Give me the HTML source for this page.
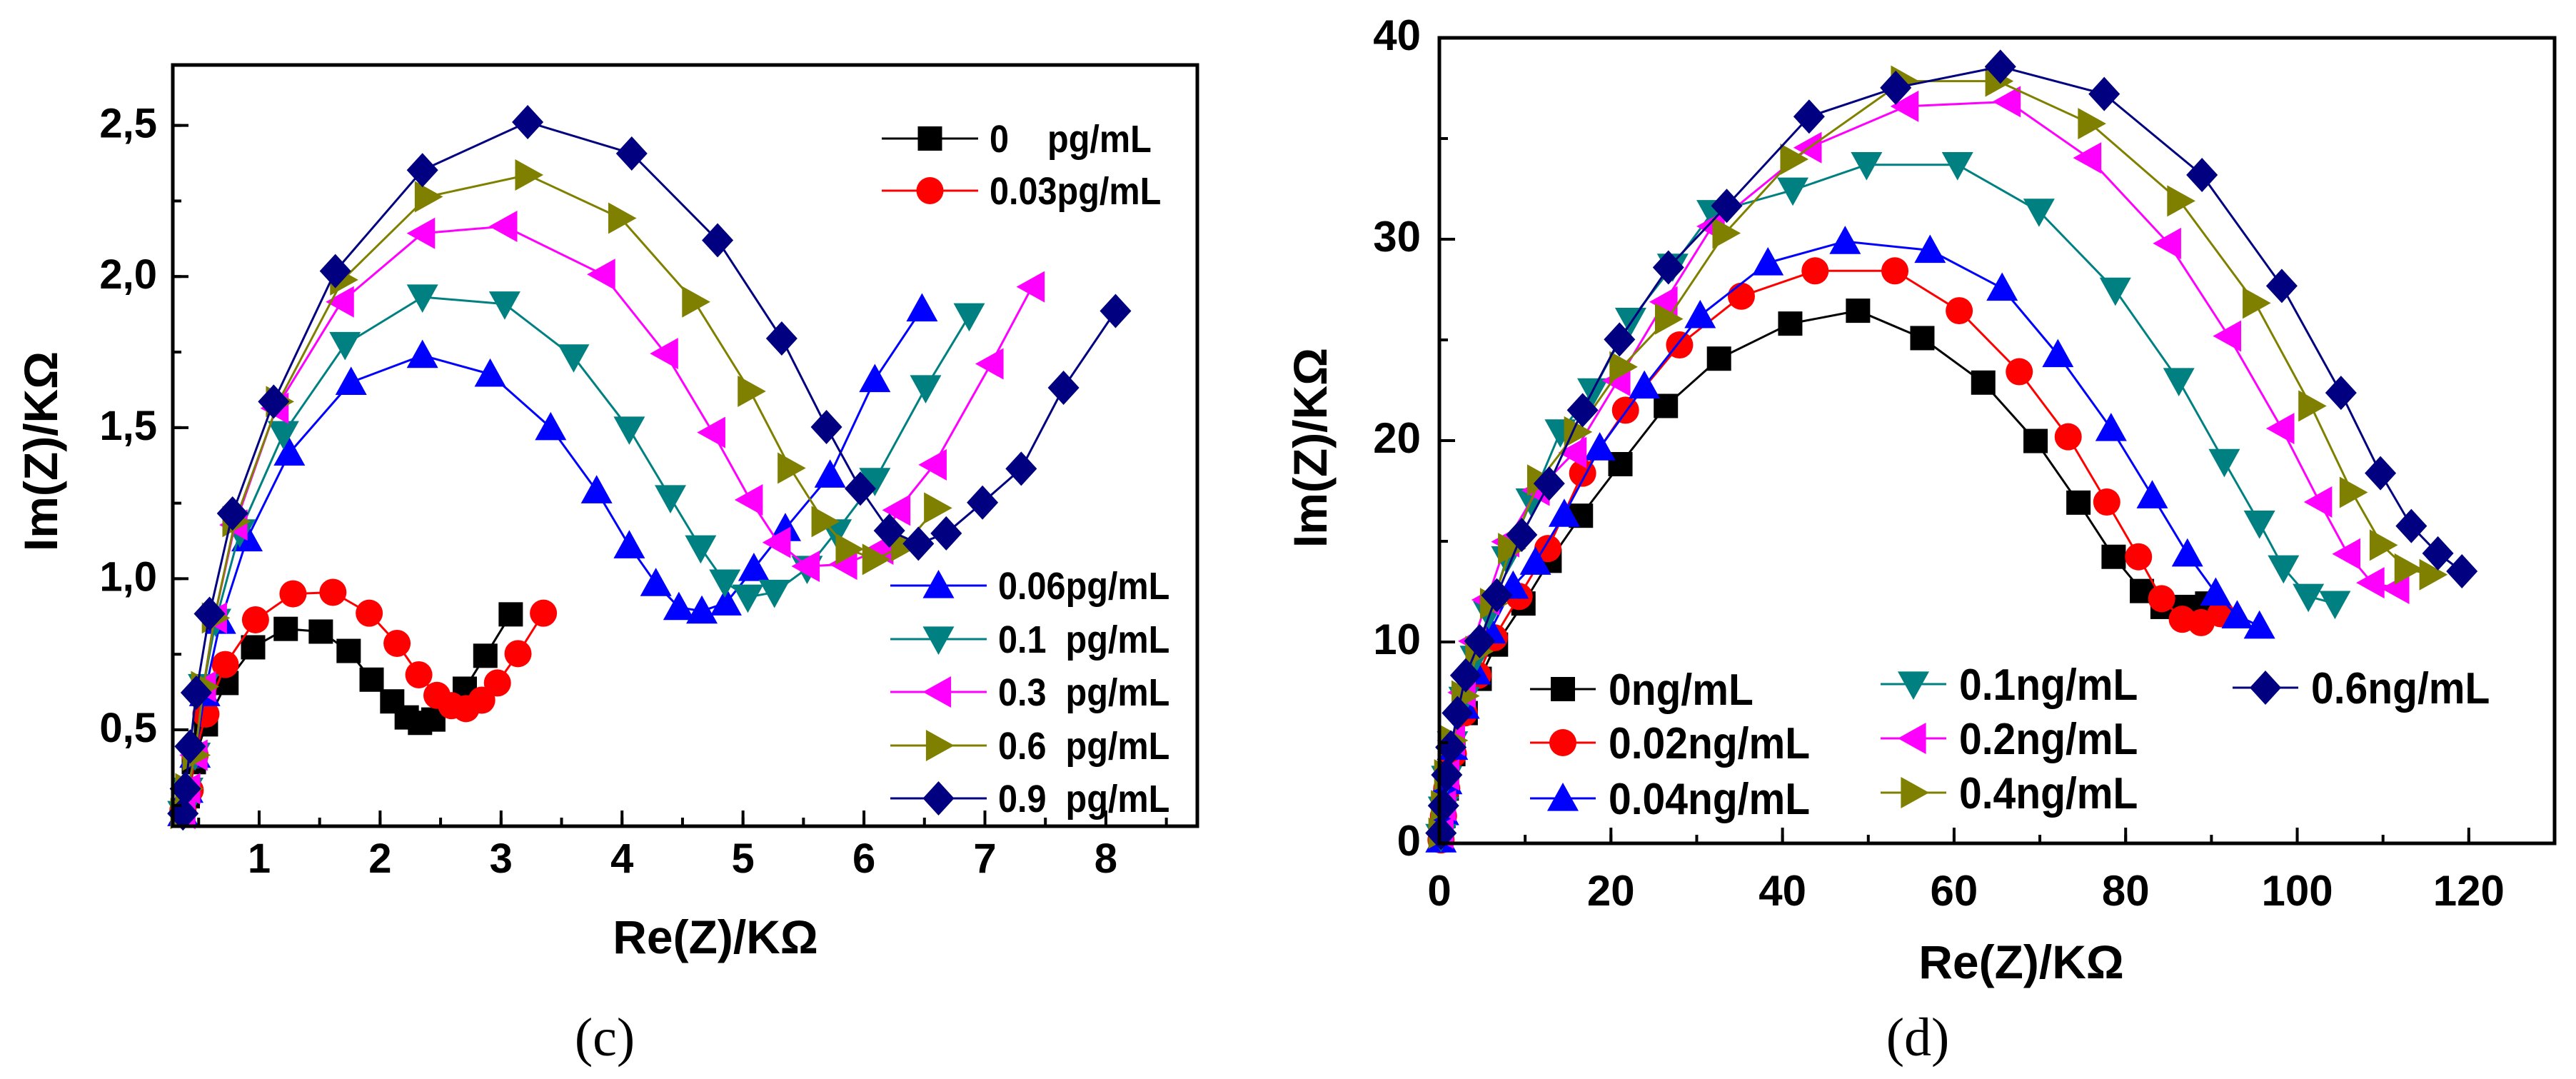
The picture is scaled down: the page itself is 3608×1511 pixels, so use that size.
<!DOCTYPE html>
<html><head><meta charset="utf-8"><style>
html,body{margin:0;padding:0;background:#fff;}
svg text{font-family:"Liberation Sans",Arial,sans-serif;font-weight:bold;white-space:pre;}
</style></head>
<body>
<svg id="fig" width="3608" height="1506" viewBox="0 0 3608 1506" xmlns="http://www.w3.org/2000/svg"></svg>
<script>
// ---------- Panel (c) data ----------
const cNames = ["0    pg/mL","0.03pg/mL","0.06pg/mL","0.1  pg/mL","0.3  pg/mL","0.6  pg/mL","0.9  pg/mL"];
const cX0 = [0.37,0.41,0.46,0.56,0.73,0.95,1.22,1.51,1.74,1.93,2.10,2.22,2.33,2.44,2.70,2.87,3.08];
const cY0 = [0.223,0.28,0.393,0.518,0.655,0.773,0.834,0.825,0.761,0.666,0.594,0.541,0.523,0.534,0.636,0.745,0.882];
const cX1 = [0.37,0.43,0.47,0.56,0.72,0.97,1.28,1.61,1.91,2.14,2.32,2.47,2.59,2.71,2.84,2.97,3.14,3.35];
const cY1 = [0.234,0.30,0.416,0.552,0.716,0.864,0.95,0.955,0.886,0.786,0.682,0.614,0.58,0.57,0.598,0.655,0.752,0.886];
const cX2 = [0.37,0.41,0.47,0.55,0.68,0.90,1.25,1.76,2.35,2.91,3.41,3.79,4.06,4.28,4.47,4.66,4.86,5.09,5.35,5.72,6.09,6.48];
const cY2 = [0.223,0.30,0.416,0.62,0.859,1.132,1.416,1.65,1.739,1.677,1.50,1.291,1.109,0.984,0.905,0.893,0.92,1.034,1.166,1.343,1.659,1.893];
const cX3 = [0.37,0.41,0.47,0.54,0.64,0.84,1.20,1.71,2.35,3.03,3.60,4.06,4.40,4.65,4.85,5.04,5.26,5.53,5.77,6.09,6.51,6.87];
const cY3 = [0.223,0.30,0.416,0.643,0.859,1.155,1.48,1.775,1.932,1.909,1.734,1.495,1.268,1.102,0.989,0.939,0.955,1.034,1.155,1.325,1.632,1.870];
const cX4 = [0.37,0.41,0.47,0.54,0.63,0.80,1.14,1.68,2.35,3.03,3.84,4.36,4.75,5.06,5.29,5.53,5.84,6.14,6.28,6.58,7.05,7.39];
const cY4 = [0.223,0.305,0.416,0.643,0.870,1.178,1.564,1.916,2.143,2.166,2.007,1.745,1.484,1.261,1.120,1.041,1.048,1.098,1.227,1.377,1.711,1.966];
const cX5 = [0.37,0.41,0.47,0.54,0.63,0.80,1.16,1.69,2.39,3.22,3.99,4.60,5.06,5.39,5.67,5.87,6.09,6.33,6.60];
const cY5 = [0.223,0.305,0.416,0.643,0.870,1.189,1.586,1.989,2.264,2.336,2.193,1.916,1.620,1.366,1.189,1.098,1.064,1.109,1.234];
const cX6 = [0.37,0.39,0.43,0.48,0.59,0.78,1.12,1.63,2.35,3.22,4.08,4.79,5.32,5.69,5.97,6.21,6.45,6.68,6.98,7.30,7.65,8.08];
const cY6 = [0.223,0.305,0.445,0.623,0.884,1.216,1.586,2.018,2.352,2.511,2.407,2.120,1.795,1.502,1.298,1.159,1.116,1.150,1.252,1.364,1.632,1.886];
const cXTicks = [1,2,3,4,5,6,7,8];
const cXTickLabels = ["1","2","3","4","5","6","7","8"];
const cYTicks = [0.5,1.0,1.5,2.0,2.5];
const cYTickLabels = ["0,5","1,0","1,5","2,0","2,5"];

// ---------- Panel (d) data ----------
const dNames = ["0ng/mL","0.02ng/mL","0.04ng/mL","0.1ng/mL","0.2ng/mL","0.4ng/mL","0.6ng/mL"];
const dX0 = [0.19,0.48,0.86,1.63,3.07,4.7,6.6,9.8,12.85,16.5,21.1,26.4,32.6,40.9,48.8,56.3,63.4,69.5,74.5,78.6,81.9,84.3,86.9,89.5];
const dY0 = [0.17,1.36,2.72,4.43,6.47,8.17,9.87,11.91,14.03,16.27,18.83,21.72,24.07,25.81,26.45,25.09,22.88,19.98,16.92,14.23,12.53,11.74,11.74,11.91];
const dX1 = [0.19,0.48,0.86,1.63,2.88,4.5,6.4,9.3,12.65,16.7,21.7,28.0,35.2,43.8,53.1,60.6,67.6,73.3,77.8,81.5,84.2,86.6,88.8,91.1];
const dY1 = [0.17,1.36,2.72,4.43,6.47,8.34,10.21,12.26,14.64,18.38,21.51,24.75,27.17,28.43,28.43,26.45,23.42,20.19,16.95,14.23,12.15,11.13,10.96,11.40];
const dX2 = [0.19,0.48,0.86,1.53,2.88,4.2,5.94,8.6,11.2,14.56,18.7,23.9,30.4,38.3,47.3,57.2,65.6,72.1,78.3,83.1,87.2,90.5,93.0,95.6];
const dY2 = [0.17,1.53,3.06,4.77,6.81,8.51,10.55,12.77,13.96,16.34,19.64,22.71,26.21,28.83,29.89,29.45,27.57,24.27,20.6,17.26,14.37,12.43,11.30,10.79];
const dX3 = [0.19,0.48,0.86,1.53,2.88,4.2,5.75,7.86,10.7,14.1,17.9,22.3,27.2,31.8,41.2,49.8,60.4,69.9,78.8,86.2,91.5,95.6,98.4,101.3,104.4];
const dY3 = [0.34,1.70,3.23,4.94,7.15,9.19,11.4,14.13,17.0,20.43,22.47,25.97,28.66,31.32,32.44,33.70,33.70,31.39,27.47,22.98,18.96,15.90,13.68,12.26,11.91];
const dX4 = [0.19,0.48,0.86,1.53,2.78,4.0,5.56,7.86,11.4,15.7,20.8,26.3,31.8,43.1,54.4,66.3,75.7,85.0,92.0,98.2,102.6,105.9,108.7,111.6];
const dY4 = [0.51,1.87,3.40,5.11,7.49,10.04,12.09,14.98,17.53,19.40,22.98,26.89,30.64,34.55,36.60,36.83,34.04,29.79,25.19,20.60,16.95,14.37,12.94,12.66];
const dX5 = [0.19,0.48,0.86,1.53,2.88,4.5,6.2,8.3,11.7,16.0,21.3,26.6,33.3,41.2,54.1,65.1,75.9,86.3,95.1,101.6,106.4,109.9,112.8,115.7];
const dY5 = [0.51,1.87,3.40,5.11,7.32,9.53,11.91,14.64,18.04,20.43,23.66,26.04,30.3,33.97,37.85,37.85,35.74,31.90,26.83,21.72,17.43,14.81,13.62,13.34];
const dX6 = [0.19,0.48,0.86,1.34,2.11,3.07,4.7,6.7,9.6,12.8,16.7,21.0,26.7,33.5,43.1,53.2,65.4,77.5,88.9,98.2,105.1,109.7,113.3,116.4,119.2];
const dY6 = [0.51,1.87,3.40,4.77,6.47,8.34,10.04,12.32,15.32,17.87,21.51,25.02,28.6,31.66,36.09,37.52,38.57,37.21,33.19,27.68,22.37,18.38,15.76,14.40,13.51];
const dXTicks = [0,20,40,60,80,100,120];
const dXTickLabels = ["0","20","40","60","80","100","120"];
const dYTicks = [0,10,20,30,40];
const dYTickLabels = ["0","10","20","30","40"];

const colors = ["#000000","#ff0000","#0000ff","#008080","#ff00ff","#808000","#000080"];
const shapes = ["square","circle","up","down","left","right","diamond"];
const NS = "http://www.w3.org/2000/svg";
const svg = document.getElementById("fig");

function mk(tag, attrs, parent){
  const e = document.createElementNS(NS, tag);
  for (const k in attrs) e.setAttribute(k, attrs[k]);
  (parent||svg).appendChild(e);
  return e;
}
function marker(shape, x, y, color, parent){
  let e;
  if (shape==="square") e = mk("rect",{x:x-17,y:y-17,width:34,height:34,fill:color},parent);
  else if (shape==="circle") e = mk("circle",{cx:x,cy:y,r:19,fill:color},parent);
  else {
    let p;
    const s=22;
    if (shape==="up") p=[[x,y-s],[x+s,y+s*0.8],[x-s,y+s*0.8]];
    else if (shape==="down") p=[[x,y+s],[x+s,y-s*0.8],[x-s,y-s*0.8]];
    else if (shape==="left") p=[[x-s,y],[x+s*0.8,y-s],[x+s*0.8,y+s]];
    else if (shape==="right") p=[[x+s,y],[x-s*0.8,y-s],[x-s*0.8,y+s]];
    else p=[[x,y-24],[x+22,y],[x,y+24],[x-22,y]];
    e = mk("polygon",{points:p.map(q=>q.join(",")).join(" "),fill:color},parent);
  }
  
  
  return e;
}

function panel(cfg){
  const g = mk("g",{});
  
  
  const sx = v => cfg.L + (v-cfg.xmin)/(cfg.xmax-cfg.xmin)*(cfg.R-cfg.L);
  const sy = v => cfg.B - (v-cfg.ymin)/(cfg.ymax-cfg.ymin)*(cfg.B-cfg.T);
  cfg.xs.forEach((xa,i)=>{
    const ya = cfg.ys[i];
    const sg = mk("g",{},g);
    
    
    const pts = xa.map((x,j)=>sx(x).toFixed(1)+","+sy(ya[j]).toFixed(1)).join(" ");
    const pl = mk("polyline",{points:pts,fill:"none",stroke:colors[i],"stroke-width":3},sg);
    
    
    xa.forEach((x,j)=>marker(shapes[i], sx(x), sy(ya[j]), colors[i], sg));
  });
  const fr = mk("rect",{x:cfg.L,y:cfg.T,width:cfg.R-cfg.L,height:cfg.B-cfg.T,fill:"none",stroke:"#000","stroke-width":5},g);
  
  
  cfg.xt.forEach((v,i)=>{
    const X = sx(v);
    const t = mk("line",{x1:X,y1:cfg.B,x2:X,y2:cfg.B-22,stroke:"#000","stroke-width":4},g);
    
    
    const tx = mk("text",{x:X,y:cfg.xLabY,"text-anchor":"middle","font-size":cfg.tickFs},g);
    tx.textContent = cfg.xtl[i];
    
    
  });
  for (let v=cfg.xt[0]-cfg.xminor; v<=cfg.xmax; v+=cfg.xminor){
    if (v<cfg.xmin) continue;
    const X=sx(v);
    const t = mk("line",{x1:X,y1:cfg.B,x2:X,y2:cfg.B-12,stroke:"#000","stroke-width":4},g);
    
    
  }
  cfg.yt.forEach((v,i)=>{
    const Y = sy(v);
    const t = mk("line",{x1:cfg.L,y1:Y,x2:cfg.L+22,y2:Y,stroke:"#000","stroke-width":4},g);
    
    
    const tx = mk("text",{x:cfg.yLabX,y:Y+17,"text-anchor":"end","font-size":cfg.tickFs},g);
    tx.textContent = cfg.ytl[i];
    
    
  });
  for (let v=cfg.yt[0]-cfg.yminor; v<=cfg.ymax; v+=cfg.yminor){
    if (v<cfg.ymin) continue;
    const Y=sy(v);
    const t = mk("line",{x1:cfg.L,y1:Y,x2:cfg.L+12,y2:Y,stroke:"#000","stroke-width":4},g);
    
    
  }
  const xt = mk("text",{x:cfg.xTitle[0],y:cfg.xTitle[1],"text-anchor":"middle","font-size":66},g);
  xt.textContent = "Re(Z)/KΩ";
  
  
  const yt = mk("text",{x:0,y:0,"text-anchor":"middle","font-size":66,transform:`translate(${cfg.yTitle[0]},${cfg.yTitle[1]}) rotate(-90)`},g);
  yt.textContent = "Im(Z)/KΩ";
  
  
  const cap = mk("text",{x:cfg.cap[0],y:cfg.cap[1],"text-anchor":"middle","font-size":76,style:'font-family:"Liberation Serif",serif;font-weight:normal'},g);
  cap.textContent = cfg.capText;
  
  
  cfg.leg.forEach((p,i)=>{
    const lg = mk("g",{},g);
    
    
    const ln = mk("line",{x1:p[0],y1:p[1],x2:p[0]+cfg.legLen,y2:p[1],stroke:colors[i],"stroke-width":3},lg);
    
    
    marker(shapes[i], p[0]+cfg.legLen/2, p[1], colors[i], lg);
    const tx0 = p[0]+cfg.legLen+cfg.legGap;
    const tx = mk("text",{x:tx0,y:p[1]+cfg.legDy,"font-size":cfg.legFs},lg);
    tx.textContent = cfg.names[i];
    tx.setAttribute("transform",`translate(${tx0*(1-cfg.legScale)},0) scale(${cfg.legScale},1)`);
    
    
  });
}

panel({name:"panel-c",L:242,R:1677,T:91,B:1157,xmin:0.286,xmax:8.756,ymin:0.181,ymax:2.7,
  xs:[cX0,cX1,cX2,cX3,cX4,cX5,cX6], ys:[cY0,cY1,cY2,cY3,cY4,cY5,cY6], names:cNames,
  xt:cXTicks, xtl:cXTickLabels, yt:cYTicks, ytl:cYTickLabels, xminor:0.5, yminor:0.25,
  tickFs:58, xLabY:1222, yLabX:220, xTitle:[1002,1335], yTitle:[80,632], cap:[847,1478], capText:"(c)",
  leg:[[1235,194],[1235,267],[1247,820],[1247,895],[1247,969],[1247,1044],[1247,1118]],
  legLen:135, legGap:16, legFs:54, legDy:19, legScale:0.9});

panel({name:"panel-d",L:2016,R:3578,T:53,B:1181,xmin:0,xmax:130,ymin:0,ymax:40,
  xs:[dX0,dX1,dX2,dX3,dX4,dX5,dX6], ys:[dY0,dY1,dY2,dY3,dY4,dY5,dY6], names:dNames,
  xt:dXTicks, xtl:dXTickLabels, yt:dYTicks, ytl:dYTickLabels, xminor:10, yminor:5,
  tickFs:60, xLabY:1268, yLabX:1990, xTitle:[2831,1370], yTitle:[1858,627], cap:[2686,1478], capText:"(d)",
  leg:[[2143,965],[2143,1040],[2143,1118],[2634,958],[2634,1034],[2634,1110],[3127,963]],
  legLen:92, legGap:18, legFs:62, legDy:22, legScale:0.92});
</script>
</body></html>
